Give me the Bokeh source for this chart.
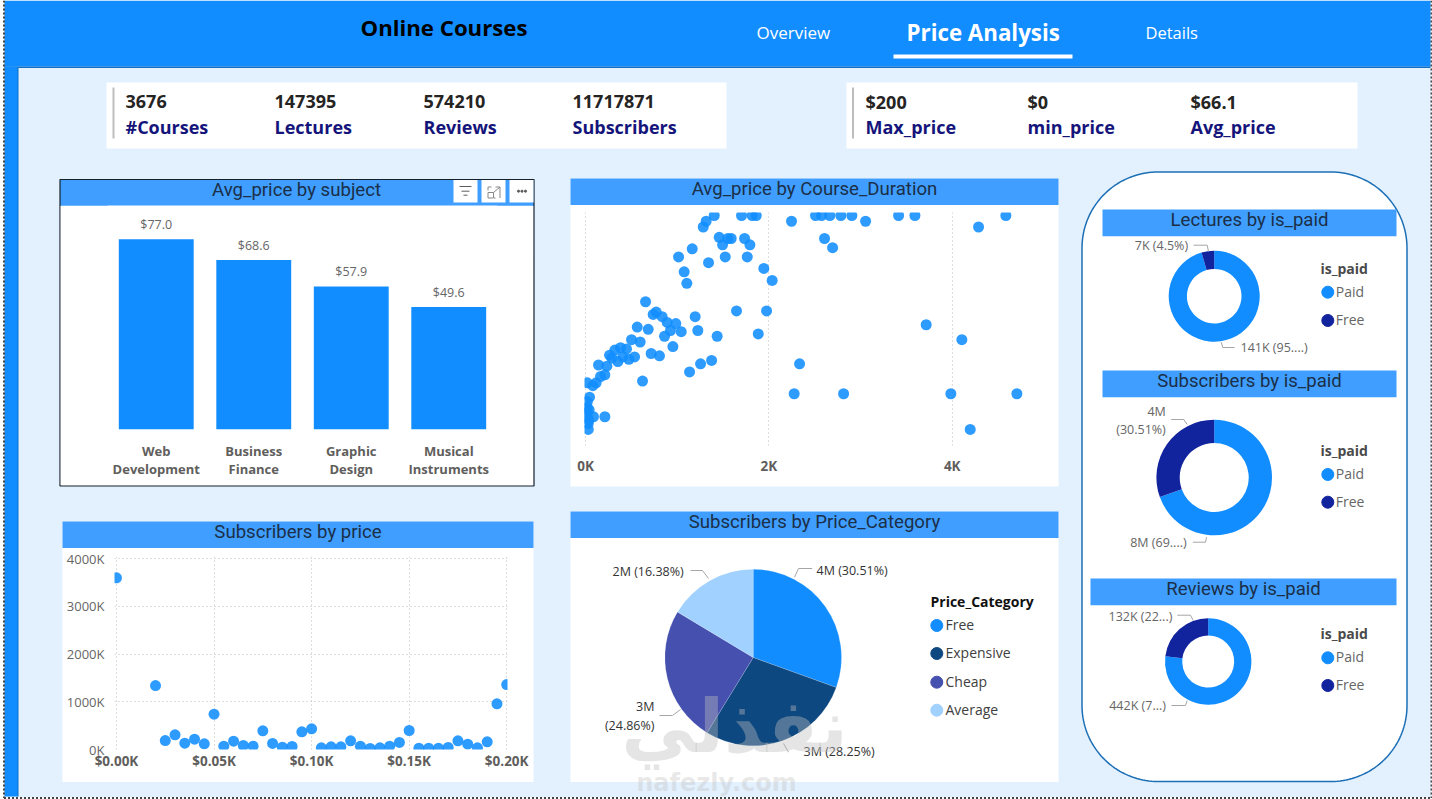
from bokeh.plotting import figure
from bokeh.embed import file_html
from bokeh.resources import INLINE
from bokeh.layouts import column
from bokeh.models import Range1d, FactorRange, FixedTicker, CustomJSTickFormatter, PrintfTickFormatter
from bokeh.core.properties import value
import numpy as np

# ---------- data ----------
kpi_left_values = ["3676", "147395", "574210", "11717871"]
kpi_left_labels = ["#Courses", "Lectures", "Reviews", "Subscribers"]
kpi_right_values = ["$200", "$0", "$66.1"]
kpi_right_labels = ["Max_price", "min_price", "Avg_price"]

subjects = ["Web\nDevelopment", "Business\nFinance", "Graphic\nDesign", "Musical\nInstruments"]
avg_price = [77.0, 68.6, 57.9, 49.6]

duration_k = [1.404, 1.702, 1.818, 1.862, 2.509, 2.575, 2.665, 2.785, 2.905, 3.415, 3.593, 4.585,
              2.247, 3.055, 4.287, 1.316, 1.284, 1.458, 1.495, 1.553, 1.589, 1.735, 1.793, 2.607,
              2.695, 1.164, 1.015, 1.524, 1.764, 1.342, 1.945, 1.076, 2.036, 1.105, 0.655, 1.647,
              1.975, 0.771, 0.738, 1.196, 0.836, 0.891, 0.985, 3.716, 0.564, 0.684, 1.225, 0.927,
              1.044, 0.862, 1.436, 1.884, 4.105, 0.502, 0.596, 0.953, 0.447, 0.382, 0.32, 0.262,
              0.716, 0.807, 0.535, 0.407, 0.473, 0.353, 0.287, 1.375, 1.255, 2.335, 1.135, 0.142,
              0.233, 0.211, 0.164, 0.622, 0.116, 0.08, 0.02, 2.276, 2.815, 3.985, 4.705, 0.044,
              0.02, 0.02, 0.02, 0.02, 0.087, 0.211, 0.03, 0.03, 4.196, 0.04, 0.035]
duration_price = [200, 200, 200, 200, 200, 200, 200, 200, 200, 200, 200, 200,
                  195, 195, 190, 195, 190, 181, 174.5, 180, 180, 180, 174.5, 180,
                  172, 171, 164, 164, 164, 159, 154, 151, 143.5, 141, 125, 117,
                  117, 116, 114, 112, 112, 107, 106, 105, 103, 101, 100, 100,
                  99, 95, 95, 97, 92, 92, 90, 86, 84, 85, 83, 78.5,
                  80, 78, 77, 77, 75, 73, 76, 74, 71, 71, 64, 70,
                  69, 61.5, 60, 56, 54.5, 52, 54.5, 45, 45, 45, 45, 42,
                  38, 33, 29, 25, 25, 25, 19, 14, 14, 31, 22]

sub_price = [0, 20, 25, 30, 35, 40, 45, 50, 55, 60, 65, 70, 75, 80, 85, 90, 95, 100, 105, 110,
             115, 120, 125, 130, 135, 140, 145, 150, 155, 160, 165, 170, 175, 180, 185, 190, 195, 200]
sub_count_k = [3595, 1340, 188, 307, 133, 216, 119, 740, 70, 175, 84, 70, 391, 126, 49, 63, 370, 433, 35, 56,
               56, 181, 70, 21, 35, 70, 147, 398, 28, 28, 28, 42, 181, 112, 35, 161, 956, 1361]

price_categories = ["Free", "Expensive", "Cheap", "Average"]
price_cat_share = [30.51, 28.25, 24.86, 16.38]
paid_labels = ["Paid", "Free"]
lectures_paid = [140762, 6633]
subscribers_paid = [8142749, 3575122]
reviews_paid = [442000, 132210]

# ---------- style ----------
W, H = 1432, 799
BLUE, LIGHT, BAND, NAVY = "#118DFF", "#E3F1FF", "#3F9EFF", "#12239E"
PIE_COLORS = ["#118DFF", "#0E4880", "#4550AF", "#A0D1FF"]
TITLE_FONT = "Roboto"
UI_FONT = "Open Sans"
TITLE_COLOR = "#1B2F47"
TITLE_SIZE = 18.6
GRID = "#BDBBB9"
TEXT_NUDGE = 1.2


def Y(y):
    return H - y


bg = figure(width=W, height=H, x_range=Range1d(0, W), y_range=Range1d(0, H),
            toolbar_location=None, output_backend="svg", min_border=0, frame_align=False,
            background_fill_color="white", border_fill_color="white", outline_line_color=None)
bg.axis.visible = False
bg.grid.visible = False


def box(x0, y0, x1, y1, color, line=None, lw=1):
    bg.quad(left=x0, right=x1, top=Y(y0), bottom=Y(y1), fill_color=color, line_color=line, line_width=lw)


def label(x, y, s, size, color="#252423", font=UI_FONT, style="normal", align="left", alpha=1.0):
    bg.text([x], [Y(y - TEXT_NUDGE)], text=[s], text_font=value(font), text_font_size=f"{size}px",
            text_font_style=style, text_color=color, text_align=align, text_baseline="middle", text_alpha=alpha)


def poly(xs, ys, color="#A6A6A6", lw=1):
    bg.line(xs, [Y(v) for v in ys], line_color=color, line_width=lw)


# page frame
box(3, 0, 1431, 797, LIGHT)
box(4, 0, 1430, 66, BLUE)
box(4, 66, 1430, 67.5, "#0F6FC6")
box(4, 66, 17.5, 796, BLUE)
box(17, 67, 18, 796, "#0F6FC6")
for xs, ys in [([3.5, 3.5], [0, 797.5]), ([3.5, 1431], [797.5, 797.5]), ([1431, 1431], [0, 797.5])]:
    bg.line(xs, [Y(v) for v in ys], line_color="#444444", line_width=2, line_dash="2 2")

# header
label(360, 28, "Online Courses", 22.2, "black", style="bold")
label(756, 33, "Overview", 17, "white")
label(906, 33, "Price Analysis", 22.3, "white", style="bold")
label(1145, 33, "Details", 16.5, "white")
box(893, 54, 1072, 58, "white")

# KPI cards
box(106, 82, 726, 148, "white")
box(112, 87, 114, 138, "#BDBDBD")
for x, v, l in zip([125, 274, 423, 572], kpi_left_values, kpi_left_labels):
    label(x, 102.5, v, 18, style="bold")
    label(x, 127.5, l, 18, "#14147A", style="bold")
box(846, 82, 1357, 148, "white")
box(851.5, 87, 853.5, 138, "#BDBDBD")
for x, v, l in zip([865, 1027, 1190], kpi_right_values, kpi_right_labels):
    label(x, 102.5, v, 18, style="bold")
    label(x, 127.5, l, 18, "#14147A", style="bold")


def card(x0, y0, x1, y1, title, tx=None):
    box(x0, y0, x1, y1, "white")
    box(x0, y0, x1, y0 + 26.5, BAND)
    label((x0 + x1) / 2 if tx is None else tx, y0 + 12, title, TITLE_SIZE, TITLE_COLOR, font=TITLE_FONT, align="center")


card(59.5, 179, 533.5, 485.5, "Avg_price by subject", tx=296)
box(59.5, 179, 533.5, 485.5, None, line="#14202C", lw=1.2)
card(570, 178, 1058, 486, "Avg_price by Course_Duration")
card(62, 521, 533, 781.5, "Subscribers by price", tx=297.5)
card(570, 511, 1058, 781.5, "Subscribers by Price_Category")

# visual header icons
for x0 in [453, 481, 509]:
    box(x0, 179.5, x0 + 24, 202, "white")
for hw, yy in [(6, 186), (4, 190.7), (2, 194.7)]:
    poly([465 - hw, 465 + hw], [yy, yy], "#605E5C")
poly([487.5, 493, 493, 487.5, 487.5], [192, 192, 197.5, 197.5, 192], "#888888")
poly([491, 487.5, 487.5], [186.5, 186.5, 190], "#888888")
poly([495, 499.5, 499.5], [186.5, 186.5, 197.5], "#888888")
poly([493, 499.5], [192, 186.5], "#888888")
poly([495, 493.5], [197.5, 197.5], "#888888")
bg.scatter([518, 521.5, 525], [Y(190.7)] * 3, size=2.2, color="#605E5C")

# rounded panel
R = 76
px0, py0, px1, py1 = 1081.5, 171.5, 1406.5, 781
t = np.linspace(0, np.pi / 2, 40)
rx = np.concatenate([px1 - R + R * np.sin(t), px1 - R + R * np.cos(t), px0 + R - R * np.sin(t), px0 + R - R * np.cos(t)])
ry = np.concatenate([py0 + R - R * np.cos(t), py1 - R + R * np.sin(t), py1 - R + R * np.cos(t), py0 + R - R * np.sin(t)])
bg.patch(rx, Y(ry), fill_color="white", line_color="#1C6FB5", line_width=1.5)

box(1102, 209, 1396, 235.7, BAND)
label(1249, 221, "Lectures by is_paid", TITLE_SIZE, TITLE_COLOR, font=TITLE_FONT, align="center")
box(1102, 370, 1396, 396.7, BAND)
label(1249, 382, "Subscribers by is_paid", TITLE_SIZE, TITLE_COLOR, font=TITLE_FONT, align="center")
box(1090, 578, 1396, 604.7, BAND)
label(1243, 590, "Reviews by is_paid", TITLE_SIZE, TITLE_COLOR, font=TITLE_FONT, align="center")


def ring(cx, cy, outer, inner, values, colors):
    share = np.array(values, dtype=float)
    ang = np.cumsum(np.concatenate([[0], share / share.sum()])) * 2 * np.pi
    start, end = np.pi / 2 - ang[:-1], np.pi / 2 - ang[1:]
    if inner > 0:
        bg.annular_wedge([cx] * len(share), [Y(cy)] * len(share), inner_radius=inner, outer_radius=outer,
                         start_angle=start, end_angle=end, direction="clock", fill_color=colors, line_color=None)
    else:
        bg.wedge([cx] * len(share), [Y(cy)] * len(share), radius=outer,
                 start_angle=start, end_angle=end, direction="clock", fill_color=colors, line_color="#FFFFFF", line_width=0.4, line_alpha=0.4)


def legend_dots(x_dot, x_text, title, tx, ty, title_color, names, ys, colors):
    label(tx, ty, title, 14, title_color, style="bold")
    for n, yy, c in zip(names, ys, colors):
        bg.scatter([x_dot], [Y(yy)], size=12, color=c)
        label(x_text, yy, n, 14, "#666666")


LBL = dict(size=12.5, color="#666666")
# donut 1
ring(1213.7, 295.7, 45.5, 27.3, lectures_paid, [BLUE, NAVY])
label(1134.3, 245.7, "7K (4.5%)", **LBL)
poly([1193, 1206.7, 1208], [244.7, 244.7, 251])
label(1240, 347.7, "141K (95....)", **LBL)
poly([1220.7, 1222.3, 1234], [341.7, 347, 347])
legend_dots(1327.3, 1335.3, "is_paid", 1320, 269, "#4A4A4A", paid_labels, [291.7, 320], [BLUE, NAVY])
# donut 2
ring(1213.7, 477, 57.8, 34.5, subscribers_paid, [BLUE, NAVY])
label(1165.3, 411.7, "4M", align="right", **LBL)
label(1165.3, 430, "(30.51%)", align="right", **LBL)
poly([1170.7, 1183.3, 1186.7], [419, 419, 424])
label(1129.7, 543.3, "8M (69....)", **LBL)
poly([1192.3, 1205, 1206], [541.7, 541.7, 536.7])
legend_dots(1327.3, 1335.3, "is_paid", 1320, 451, "#4A4A4A", paid_labels, [474, 501.7], [BLUE, NAVY])
# donut 3
ring(1207.7, 661, 43.2, 26, reviews_paid, [BLUE, NAVY])
label(1108, 616.7, "132K (22...)", **LBL)
poly([1176.7, 1190, 1192.7], [614.7, 614.7, 620])
label(1108.7, 705.7, "442K (7...)", **LBL)
poly([1171, 1185, 1186.7], [705, 705, 700])
legend_dots(1327.3, 1335.3, "is_paid", 1320, 634, "#4A4A4A", paid_labels, [657.3, 685], [BLUE, NAVY])

# pie
ring(752.7, 657, 88.3, 0, price_cat_share, PIE_COLORS)
PL = dict(size=12.5, color="#333333")
label(816, 570.7, "4M (30.51%)", **PL)
poly([811.7, 798, 794], [568, 568, 576.7])
label(612, 571.7, "2M (16.38%)", **PL)
poly([690, 702, 708], [570, 570, 578])
label(803, 751.7, "3M (28.25%)", **PL)
poly([788, 783], [751.7, 743])
label(654, 707, "3M", align="right", **PL)
label(654, 725.7, "(24.86%)", align="right", **PL)
poly([659, 672, 680], [715, 715, 709])
label(930, 601.7, "Price_Category", 14, "#111111", style="bold")
for n, yy, c in zip(price_categories, [625, 653, 681.7, 709.7], PIE_COLORS):
    bg.scatter([936.3], [Y(yy)], size=12, color=c)
    label(945, yy, n, 14, "#404040")

# watermark
label(734, 727, "نفذلي", 74, "#BEBEBE", font="DejaVu Sans", style="bold", align="center", alpha=0.4)
label(716, 784, "nafezly.com", 24, "#BEBEBE", font="DejaVu Sans", style="bold", align="center", alpha=0.35)


def place(fig, x, y):
    fig.styles = {"position": "absolute", "left": f"{x}px", "top": f"{y}px"}


def quiet(ax):
    ax.axis_line_color = None
    ax.major_tick_line_color = None
    ax.minor_tick_line_color = None
    ax.major_tick_in = 0
    ax.major_tick_out = 0
    ax.minor_tick_in = 0
    ax.minor_tick_out = 0
    ax.major_label_text_font = UI_FONT


# ---------- bar chart ----------
bar = figure(width=473, height=280, x_range=FactorRange(factors=subjects, range_padding=0, factor_padding=0),
             y_range=Range1d(0, 90.7), toolbar_location=None, output_backend="svg", frame_align=False,
             min_border_left=47, min_border_right=36, min_border_top=0, min_border_bottom=56,
             background_fill_color="white", border_fill_color="white", outline_line_color=None)
bar.vbar(x=subjects, top=avg_price, width=0.768, fill_color=BLUE, line_color=None)
bar.text(x=subjects, y=avg_price, text=[f"${v:.1f}" for v in avg_price], y_offset=-15,
         text_align="center", text_baseline="middle", text_font=value(UI_FONT), text_font_size="12.5px", text_color="#666666")
bar.yaxis.visible = False
bar.grid.visible = False
ax = bar.xaxis[0]
quiet(ax)
ax.major_label_standoff = 12
ax.major_label_text_font_size = "13px"
ax.major_label_text_font_style = "bold"
ax.major_label_text_color = "#605E5C"
ax.major_label_text_line_height = 1.0
place(bar, 60, 205)

# ---------- duration scatter ----------
dur = figure(width=488, height=281, x_range=Range1d(-0.011, 5.05), y_range=Range1d(0, 202.6),
             toolbar_location=None, output_backend="svg", min_border_left=14, min_border_right=10,
             min_border_top=7, min_border_bottom=41, frame_align=False,
             background_fill_color="white", border_fill_color="white", outline_line_color=None)
dur.scatter(duration_k, duration_price, size=11, fill_color=BLUE, fill_alpha=0.88, line_color=None)
dur.yaxis.visible = False
dur.ygrid.visible = False
dur.xgrid.grid_line_color = GRID
dur.xgrid.grid_line_dash = "1 3"
dur.xaxis[0].ticker = FixedTicker(ticks=[0, 2, 4])
dur.xaxis[0].formatter = PrintfTickFormatter(format="%dK")
ax = dur.xaxis[0]
quiet(ax)
ax.major_label_standoff = 11
ax.major_label_text_font_size = "13.5px"
ax.major_label_text_font_style = "bold"
ax.major_label_text_color = "#605E5C"
place(dur, 570, 205)

# ---------- subscribers scatter ----------
sub = figure(width=471, height=234, x_range=Range1d(-1.02, 200.4), y_range=Range1d(0, 4042),
             toolbar_location=None, output_backend="svg", min_border_left=52, min_border_right=26,
             min_border_top=8, min_border_bottom=33, frame_align=False,
             background_fill_color="white", border_fill_color="white", outline_line_color=None)
sub.scatter(sub_price, sub_count_k, size=11, fill_color=BLUE, fill_alpha=0.88, line_color=None)
for g in (sub.xgrid, sub.ygrid):
    g.grid_line_color = GRID
    g.grid_line_dash = "1 3"
sub.xaxis[0].ticker = FixedTicker(ticks=[0, 50, 100, 150, 200])
sub.xaxis[0].formatter = CustomJSTickFormatter(code="return '$' + (tick / 1000).toFixed(2) + 'K'")
sub.yaxis[0].ticker = FixedTicker(ticks=[0, 1000, 2000, 3000, 4000])
sub.yaxis[0].formatter = PrintfTickFormatter(format="%dK")
for ax in (sub.xaxis[0], sub.yaxis[0]):
    quiet(ax)
sub.xaxis[0].major_label_standoff = 2
sub.xaxis[0].major_label_text_font_size = "13.5px"
sub.xaxis[0].major_label_text_font_style = "bold"
sub.xaxis[0].major_label_text_color = "#605E5C"
sub.yaxis[0].major_label_standoff = 10
sub.yaxis[0].major_label_text_font_size = "13px"
sub.yaxis[0].major_label_text_color = "#666666"
place(sub, 62, 548)

place(bg, 0, 0)
root = column(bg, bar, dur, sub, width=W, height=H, styles={"position": "relative"})
open("out.html", "w").write(file_html(root, INLINE))
